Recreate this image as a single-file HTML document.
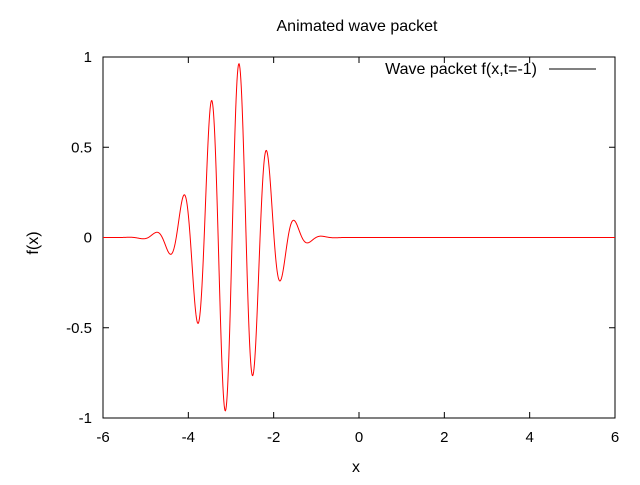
<!DOCTYPE html>
<html><head><meta charset="utf-8"><style>
body{margin:0;background:#fff}
svg text{font-family:"Liberation Sans",sans-serif;font-size:15px;fill:#000}
svg text.big{font-size:16px}
</style></head><body>
<svg id="chart" width="640" height="480">
<rect x="0" y="0" width="640" height="480" fill="#fff"/>
<g id="axes"></g>
<path id="curve" fill="none" stroke="#ff0000" stroke-width="1"/>
<text class="big" x="357" y="31" text-anchor="middle">Animated wave packet</text>
<text class="big" x="356" y="472" text-anchor="middle">x</text>
<text class="big" x="38" y="243" text-anchor="middle" transform="rotate(-90 38 243)">f(x)</text>
<g>
<text class="big" x="537" y="74" text-anchor="end">Wave packet f(x,t=-1)</text>
<line x1="549" y1="69" x2="596" y2="69" stroke="#000"/>
</g>
</svg>
<script>
const xTicks=[-6,-4,-2,0,2,4,6];
const yTicks=[-1,-0.5,0,0.5,1];
const xTickLabels=["-6","-4","-2","0","2","4","6"];
const yTickLabels=["-1","-0.5","0","0.5","1"];
const packetCenter=[-2.97];
const packetWidth=[0.95];
const packetWavelength=[0.655];
const packetPhaseX=[-2.81];
const amplitude=[0.99];
const xDomain=[-6,6];
const L=103,R=615,T=57,B=418;
const sx=v=>L+(v-xDomain[0])/(xDomain[1]-xDomain[0])*(R-L);
const sy=v=>B-(v+1)/2*(B-T);
const ns="http://www.w3.org/2000/svg";
const ax=document.getElementById('axes');
function mk(t,a){const e=document.createElementNS(ns,t);for(const k in a)e.setAttribute(k,a[k]);ax.appendChild(e);return e;}
const frame=mk('rect',{x:L,y:T,width:R-L,height:B-T,fill:'none',stroke:'#000'});


xTicks.forEach((v,i)=>{const x=sx(v);
 mk('line',{x1:x,y1:B,x2:x,y2:B-6,stroke:'#000'});mk('line',{x1:x,y1:T,x2:x,y2:T+6,stroke:'#000'});
 const t=mk('text',{x:x,y:B+24,'text-anchor':'middle'});t.textContent=xTickLabels[i];
 
 });
yTicks.forEach((v,i)=>{const y=sy(v);
 mk('line',{x1:L,y1:y,x2:L+6,y2:y,stroke:'#000'});mk('line',{x1:R,y1:y,x2:R-6,y2:y,stroke:'#000'});
 const t=mk('text',{x:L-11,y:y+5,'text-anchor':'end'});t.textContent=yTickLabels[i];
 
 });
const k=2*Math.PI/packetWavelength[0];
let d='';
for(let i=0;i<=1200;i++){const x=xDomain[0]+i*(xDomain[1]-xDomain[0])/1200;
 const y=amplitude[0]*Math.exp(-Math.pow((x-packetCenter[0])/packetWidth[0],2))*Math.cos(k*(x-packetPhaseX[0]));
 d+=(i?'L':'M')+sx(x).toFixed(2)+','+sy(y).toFixed(2);}
document.getElementById('curve').setAttribute('d',d);
</script>
</body></html>
